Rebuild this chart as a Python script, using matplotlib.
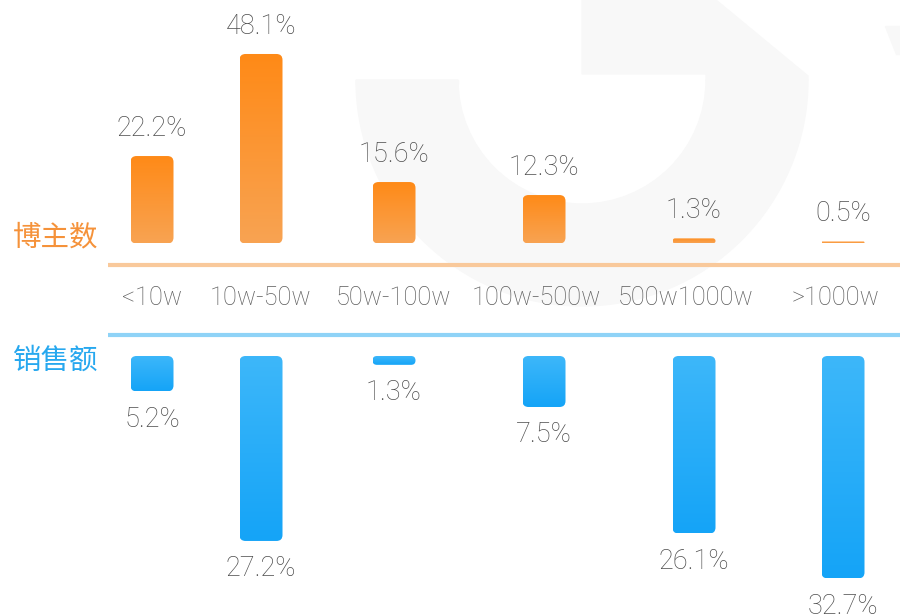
import numpy as np
import matplotlib
matplotlib.use("Agg")
import matplotlib.pyplot as plt
from matplotlib.patches import FancyBboxPatch, Polygon, Wedge, Rectangle
from matplotlib.colors import to_rgb

# data: share of bloggers vs. share of sales by follower bracket
categories = ["<10w", "10w-50w", "50w-100w", "100w-500w", "500w1000w", ">1000w"]
blogger_share = [22.2, 48.1, 15.6, 12.3, 1.3, 0.5]
sales_share = [5.2, 27.2, 1.3, 7.5, 26.1, 32.7]

# layout (pixel columns)
bar_x = [152, 261, 394, 544, 694, 843]
label_x = [152, 261, 393, 536, 686, 836]
bar_w = 43
W, H = 900, 616
top_base, top_scale = 243.5, 3.94      # px baseline, px per %
bot_base, bot_scale = 356, 6.8

plt.rcParams["font.family"] = ["Roboto", "Noto Sans CJK SC", "DejaVu Sans"]

fig = plt.figure(figsize=(W / 100, H / 100), dpi=100)
fig.patch.set_facecolor("white")

# background layer in pixel coordinates
bg = fig.add_axes([0, 0, 1, 1])
bg.set_xlim(0, W)
bg.set_ylim(H, 0)
bg.axis("off")

wm = "#f8f8f8"
cx, cy = 582, 80
bg.add_patch(Wedge((cx, cy), 226, 0, 180, width=102, color=wm, zorder=0))
bg.add_patch(Polygon([(582, 74), (582, 0), (716, 0), (808, 76), (808, 80),
                      (706, 80), (706, 74)], closed=True, color=wm, zorder=0))
bg.add_patch(Rectangle((356, 80), 102, 4, color=wm, zorder=0))
bg.add_patch(Polygon([(885, 26), (900, 26), (900, 54), (896, 54)],
                     closed=True, color=wm, zorder=0))

# divider lines
bg.plot([108, W], [265, 265], color="#f9c99b", lw=3, solid_capstyle="butt")
bg.plot([108, W], [335, 335], color="#8fd3f7", lw=3, solid_capstyle="butt")

# row titles
bg.text(56, 237, "博主数", color="#f5923a", fontsize=20.5, ha="center",
        va="center", family=["Noto Sans CJK SC", "DejaVu Sans"])
bg.text(56, 361, "销售额", color="#27a8ef", fontsize=20.5, ha="center",
        va="center", family=["Noto Sans CJK SC", "DejaVu Sans"])

for lx, name in zip(label_x, categories):
    bg.text(lx, 298, name, color="#5c5c5c", fontsize=18.3, ha="center",
            va="center", fontweight="light")

ax_top = fig.add_axes([0, (H - top_base) / H, 1, top_base / H])
ax_bot = fig.add_axes([0, 0, 1, (H - bot_base) / H])


def rounded_bars(ax, values, scale, c_top, c_bottom, inverted):
    n = 64
    grad = np.linspace(0, 1, n)[:, None, None]
    img = (1 - grad) * np.array(to_rgb(c_top)) + grad * np.array(to_rgb(c_bottom))
    for x, v in zip(bar_x, values):
        h_px = v * scale
        r = min(6, h_px / 2)
        patch = FancyBboxPatch((x - bar_w / 2, 0), bar_w, v,
                               boxstyle=f"round,pad=0,rounding_size={r}",
                               mutation_aspect=1 / scale,
                               facecolor="none", edgecolor="none")
        ax.add_patch(patch)
        ext = (x - bar_w / 2, x + bar_w / 2, v, 0) if inverted else \
              (x - bar_w / 2, x + bar_w / 2, 0, v)
        im = ax.imshow(img, extent=ext, aspect="auto", interpolation="bilinear",
                       zorder=2)
        im.set_clip_path(patch)
        off = 20 if not inverted else -20
        ax.annotate(f"{v}%", (x, v), xytext=(0, off), textcoords="offset points",
                    ha="center", va="center", fontsize=19.5, color="#4d4d4d",
                    fontweight="light", annotation_clip=False)


rounded_bars(ax_top, blogger_share, top_scale, "#ff8a17", "#f8a352", False)
rounded_bars(ax_bot, sales_share, bot_scale, "#3db7fa", "#15a4f7", True)

ax_top.set_xlim(0, W)
ax_top.set_ylim(0, top_base / top_scale)
ax_bot.set_xlim(0, W)
ax_bot.set_ylim((H - bot_base) / bot_scale, 0)
for ax in (ax_top, ax_bot):
    ax.axis("off")
    ax.patch.set_alpha(0)

fig.savefig("out.png", dpi=100, facecolor="white")
